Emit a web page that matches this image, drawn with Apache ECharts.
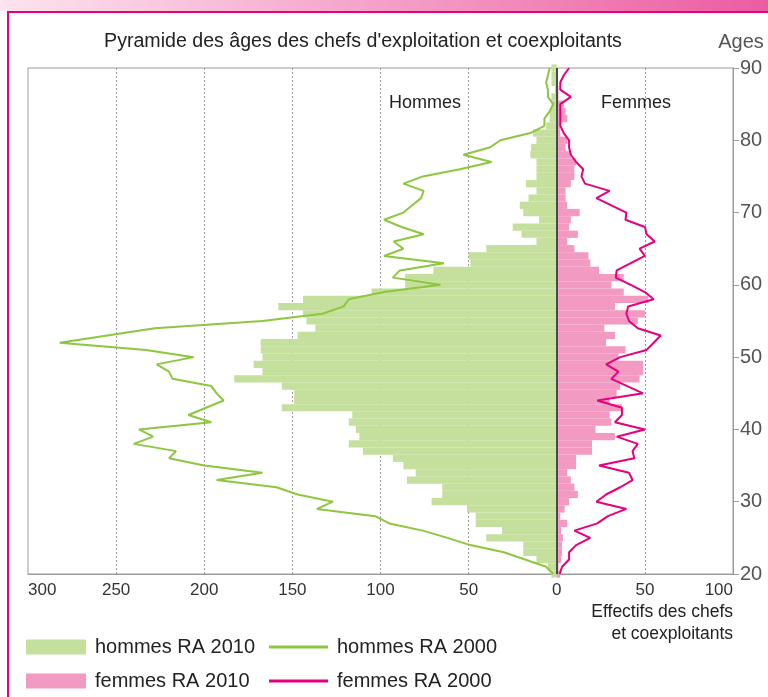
<!DOCTYPE html>
<html>
<head>
<meta charset="utf-8">
<script src="https://cdn.jsdelivr.net/npm/echarts@6/dist/echarts.min.js"></script>
<style>
html,body{margin:0;padding:0;background:#fff;}
#chart{width:768px;height:697px;}
</style>
</head>
<body>
<div id="chart"></div>
<script>
// Ages (category, bottom to top)
var ages = ['20','21','22','23','24','25','26','27','28','29',
            '30','31','32','33','34','35','36','37','38','39',
            '40','41','42','43','44','45','46','47','48','49',
            '50','51','52','53','54','55','56','57','58','59',
            '60','61','62','63','64','65','66','67','68','69',
            '70','71','72','73','74','75','76','77','78','79',
            '80','81','82','83','84','85','86','87','88','89',
            '90'];

// hommes RA 2010 (effectifs)
var hommes2010 = [3,5,11.5,19,19,40,31,46,46,51,
                  71,65,65,85,80,87,93,110,118,112,
                  114,118,116,156,149,149,156,183,167,172,
                  167,168,168,147,137,142,144,158,144,105,
                  86,86,70,49,50,40,11.5,20,25,10,
                  19,21,16,11.5,17.5,11.5,11.5,11.5,15,14.5,
                  11.5,13.5,6,4,4,3,3,1,3,3,
                  3];

// femmes RA 2010
var femmes2010 = [2,1,2.5,3,3,3.5,2.5,6,2,4.5,
                  7,12,10,8,6,11,11,20,20,33,
                  22,31,30,37,30,34,36,47,49,49,
                  35,39,28,33,27,46,50,33,52,38,
                  31,38,24,19,18,10,6,12,7,8,
                  13,6,5,5,8,10,10,11,8,5,
                  6,2,2,6,5,4,1,1,0,0,
                  0];

// hommes RA 2000
var hommes2000 = [2,6,18,30,49,62,76,95,103,136,
                  127,147,159,193,167,200,220,216,240,229,
                  237,196,209,199,189,193,196,218,220,227,
                  206,233,282,255,228,167,133,121,118,98,
                  66,93,89,64,98,87,92.5,75.5,88,98,
                  87,82,77,75.5,87,76,55,37,53,38,
                  32,15,7,7,4,2,5,5,6,5,
                  4];

// femmes RA 2000
var femmes2000 = [1.7,3,7,7,11,19,10,23,29,39.5,
                  22.5,28,36,43,41,24,44,43,46,34,
                  50,33,37,37,23,49,40,31,35,28,
                  36,51,55,59,46,41,39.5,40.5,55,50,
                  42,33.5,34,42,50,47,55.6,51,50,39,
                  39.5,31,22.5,30,16,14,15,11,8,7,
                  7,4,2,2,2,2,8,2,2,4,
                  7];

var xTicks = {min: -300, max: 100, interval: 50};
var yTicks = {min: 20, max: 90, interval: 10};

var FONT = '"Liberation Sans", Arial, sans-serif';
var C_HBAR = '#c5df9c', C_FBAR = '#f39ac2', C_HLINE = '#8dc63f', C_FLINE = '#e6007e';

function neg(a){ return a.map(function(v){ return -v; }); }

var chart = echarts.init(document.getElementById('chart'), null, {renderer:'canvas'});

var legendText = {fontSize: 20, color: '#222', fontFamily: FONT, padding: [0,0,0,4]};

var option = {
  animation: false,
  backgroundColor: '#fff',
  textStyle: {fontFamily: FONT},
  grid: {left: 28, right: 35, top: 68, bottom: 123, show: true, borderColor: '#9a9a9a', borderWidth: 1, containLabel: false},
  xAxis: {
    type: 'value', min: xTicks.min, max: xTicks.max, interval: xTicks.interval,
    axisLine: {show: true, lineStyle: {color: '#9a9a9a', width: 1}},
    axisTick: {show: false},
    axisLabel: {fontSize: 17, color: '#333', margin: 8, fontFamily: FONT,
      alignMinLabel: 'left', alignMaxLabel: 'right',
      formatter: function(v){ return String(Math.abs(v)); }},
    splitLine: {show: true, showMinLine: false, showMaxLine: false, lineStyle: {color: '#9a9a9a', type: [2,2], width: 1}}
  },
  yAxis: [
    {type: 'category', data: ages, boundaryGap: false, show: false, position: 'left'},
    {type: 'value', min: yTicks.min, max: yTicks.max, interval: yTicks.interval, position: 'right',
      axisLine: {show: true, lineStyle: {color: '#9a9a9a', width: 1}},
      axisTick: {show: true, inside: false, length: 6, lineStyle: {color: '#9a9a9a'}},
      axisLabel: {fontSize: 20, color: '#555', margin: 7, fontFamily: FONT},
      splitLine: {show: false}}
  ],
  legend: [
    {data: [{name: 'hommes RA 2010', icon: 'rect'}], left: 21, top: 632, itemWidth: 60, itemHeight: 15,
      textStyle: legendText, selectedMode: false},
    {data: [{name: 'femmes RA 2010', icon: 'rect'}], left: 21, top: 666, itemWidth: 60, itemHeight: 15,
      textStyle: legendText, selectedMode: false},
    {data: [{name: 'hommes RA 2000', icon: 'rect'}], left: 264, top: 632, itemWidth: 59, itemHeight: 3,
      textStyle: legendText, selectedMode: false},
    {data: [{name: 'femmes RA 2000', icon: 'rect'}], left: 264, top: 666, itemWidth: 59, itemHeight: 3,
      textStyle: legendText, selectedMode: false}
  ],
  series: [
    {name: 'hommes RA 2010', type: 'bar', yAxisIndex: 0, data: neg(hommes2010),
      barGap: '-100%', barCategoryGap: '0%', itemStyle: {color: C_HBAR}, clip: true, z: 2,
      markLine: {silent: true, symbol: 'none', label: {show: false}, animation: false,
        lineStyle: {color: '#4a4a4a', width: 2, type: 'solid'}, data: [{xAxis: 0}], z: 10}},
    {name: 'femmes RA 2010', type: 'bar', yAxisIndex: 0, data: femmes2010,
      barGap: '-100%', barCategoryGap: '0%', itemStyle: {color: C_FBAR}, clip: true, z: 2},
    {name: 'hommes RA 2000', type: 'line', yAxisIndex: 0, data: neg(hommes2000),
      symbol: 'none', color: C_HLINE, lineStyle: {color: C_HLINE, width: 2}, itemStyle: {color: C_HLINE}, z: 5},
    {name: 'femmes RA 2000', type: 'line', yAxisIndex: 0, data: femmes2000,
      symbol: 'none', color: C_FLINE, lineStyle: {color: C_FLINE, width: 2}, itemStyle: {color: C_FLINE}, z: 5}
  ],
  graphic: [
    {type: 'rect', left: 0, top: 0, z: 0, silent: true, shape: {x: 0, y: 0, width: 768, height: 11},
      style: {fill: new echarts.graphic.LinearGradient(0, 0, 1, 0, [{offset: 0, color: '#fde4ef'}, {offset: 1, color: '#ec5ca2'}])}},
    {type: 'line', silent: true, shape: {x1: 7, y1: 12, x2: 768, y2: 12}, style: {stroke: '#e6007e', lineWidth: 2}},
    {type: 'line', silent: true, shape: {x1: 8, y1: 12, x2: 8, y2: 697}, style: {stroke: '#e6007e', lineWidth: 2}},
    {type: 'text', silent: true, style: {text: "Pyramide des âges des chefs d'exploitation et coexploitants", x: 363, y: 42,
      textAlign: 'center', textVerticalAlign: 'middle', font: '19.6px ' + FONT, fill: '#222'}},
    {type: 'text', silent: true, style: {text: 'Ages', x: 741, y: 42,
      textAlign: 'center', textVerticalAlign: 'middle', font: '20px ' + FONT, fill: '#555'}},
    {type: 'text', silent: true, z: 20, style: {text: 'Hommes', x: 425, y: 103,
      textAlign: 'center', textVerticalAlign: 'middle', font: '18px ' + FONT, fill: '#222'}},
    {type: 'text', silent: true, z: 20, style: {text: 'Femmes', x: 636, y: 103,
      textAlign: 'center', textVerticalAlign: 'middle', font: '18px ' + FONT, fill: '#222'}},
    {type: 'text', silent: true, style: {text: 'Effectifs des chefs', x: 733, y: 612,
      textAlign: 'right', textVerticalAlign: 'middle', font: '17.5px ' + FONT, fill: '#222'}},
    {type: 'text', silent: true, style: {text: 'et coexploitants', x: 733, y: 634,
      textAlign: 'right', textVerticalAlign: 'middle', font: '17.5px ' + FONT, fill: '#222'}}
  ]
};
chart.setOption(option);
</script>
</body>
</html>
